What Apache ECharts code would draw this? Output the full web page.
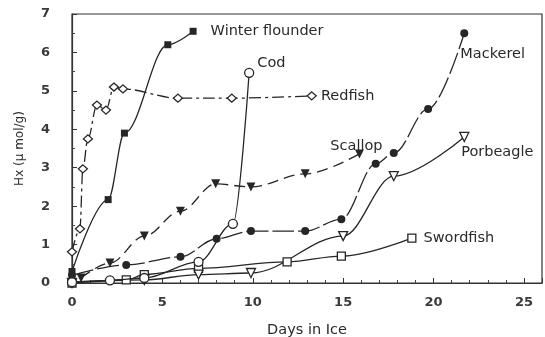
<!DOCTYPE html>
<html>
<head>
<meta charset="utf-8">
<script src="https://cdn.jsdelivr.net/npm/echarts@6/dist/echarts.min.js"></script>
<style>
  html, body { margin: 0; padding: 0; background: #fff; }
  #chart { width: 545px; height: 337px; }
</style>
</head>
<body>
<div id="chart"></div>
<script>
// Hypoxanthine (Hx) build-up in fish stored on ice, by species
const xTicks = [0, 5, 10, 15, 20, 25];
const yTicks = [0, 1, 2, 3, 4, 5, 6, 7];

const winterFlounderDays = [0, 2, 2.9, 5.3, 6.7];
const winterFlounderHx   = [0.3, 2.17, 3.9, 6.2, 6.55];

const redfishDays = [0, 0.44, 0.6, 0.88, 1.38, 1.88, 2.32, 2.82, 5.86, 8.84, 13.26];
const redfishHx   = [0.81, 1.41, 2.97, 3.75, 4.63, 4.5, 5.1, 5.05, 4.81, 4.81, 4.87];

const codDays = [0, 2.1, 4, 7, 8.9, 9.8];
const codHx   = [0.02, 0.07, 0.13, 0.55, 1.54, 5.47];

const mackerelDays = [0, 3, 6, 8, 9.9, 12.9, 14.9, 16.8, 17.8, 19.7, 21.7];
const mackerelHx   = [0.2, 0.47, 0.68, 1.15, 1.35, 1.35, 1.66, 3.1, 3.38, 4.53, 6.5];

const scallopDays = [0.5, 2.1, 4, 6, 7.95, 9.9, 12.9, 15.9];
const scallopHx   = [0.13, 0.52, 1.22, 1.87, 2.58, 2.5, 2.84, 3.36];

const porbeagleDays = [0, 4, 7, 9.9, 15, 17.8, 21.7];
const porbeagleHx   = [0, 0.08, 0.22, 0.26, 1.22, 2.78, 3.8];

const swordfishDays = [0, 3, 4, 7, 11.9, 14.9, 18.8];
const swordfishHx   = [0, 0.08, 0.22, 0.38, 0.55, 0.7, 1.17];

const INK = '#262626';
const FONT = '"DejaVu Sans", "Liberation Sans", sans-serif';

function pairs(xs, ys) {
  return xs.map((x, i) => [x, ys[i]]);
}

// One curve per species; the species name sits beside its last point
function curve(name, xs, ys, opts) {
  const last = xs.length - 1;
  return {
    name: name,
    type: 'line',
    data: pairs(xs, ys),
    smooth: 0.35,
    smoothMonotone: 'x',
    symbol: opts.symbol,
    symbolSize: opts.size,
    symbolRotate: opts.rotate || 0,
    showAllSymbol: true,
    lineStyle: { color: INK, width: 1.3, type: opts.dash || 'solid' },
    itemStyle: {
      color: opts.hollow ? '#fff' : INK,
      borderColor: INK,
      borderWidth: opts.hollow ? 1.3 : 0
    },
    label: {
      show: true,
      position: opts.labelPos || 'right',
      distance: opts.labelDist == null ? 5 : opts.labelDist,
      offset: opts.labelOffset || [0, 0],
      fontFamily: FONT,
      fontSize: 14.5,
      color: '#2a2a2a',
      formatter: p => (p.dataIndex === last ? name : '')
    },
    emphasis: { disabled: true },
    z: opts.z || 2
  };
}

const chart = echarts.init(document.getElementById('chart'), null, { renderer: 'canvas' });

chart.setOption({
  animation: false,
  backgroundColor: '#fff',
  grid: {
    left: 72, right: 3, top: 14, bottom: 54,
    containLabel: false,
    outerBoundsMode: 'none',
    show: true, borderColor: '#333', borderWidth: 1.2, backgroundColor: 'transparent'
  },
  xAxis: {
    type: 'value',
    min: 0, max: 26, interval: 5,
    name: 'Days in Ice',
    nameLocation: 'middle',
    nameGap: 40,
    nameTextStyle: { fontFamily: FONT, fontSize: 14.5, color: '#2a2a2a' },
    axisLine: { show: true, lineStyle: { color: '#333', width: 1.2 } },
    axisTick: { show: true, inside: true, length: 5, lineStyle: { color: '#333' } },
    minorTick: { show: true, splitNumber: 5, length: 3, lineStyle: { color: '#444' } },
    splitLine: { show: false },
    axisLabel: {
      margin: 13,
      fontFamily: FONT, fontSize: 13, fontWeight: 'bold', color: '#3a3a3a',
      formatter: v => (xTicks.indexOf(v) >= 0 ? String(v) : '')
    }
  },
  yAxis: {
    type: 'value',
    min: 0, max: 7, interval: 1,
    name: 'Hx (\u03bc mol/g)',
    nameLocation: 'middle',
    nameGap: 46,
    nameTextStyle: { fontFamily: FONT, fontSize: 12, color: '#2a2a2a' },
    axisLine: { show: true, lineStyle: { color: '#333', width: 1.2 } },
    axisTick: { show: true, inside: true, length: 5, lineStyle: { color: '#333' } },
    minorTick: { show: true, splitNumber: 2, length: 3, lineStyle: { color: '#444' } },
    splitLine: { show: false },
    axisLabel: {
      margin: 22,
      fontFamily: FONT, fontSize: 13, fontWeight: 'bold', color: '#3a3a3a',
      formatter: v => (yTicks.indexOf(v) >= 0 ? String(v) : '')
    }
  },
  series: [
    curve('Swordfish', swordfishDays, swordfishHx,
      { symbol: 'rect', size: 8, hollow: true, labelDist: 7 }),
    curve('Porbeagle', porbeagleDays, porbeagleHx,
      { symbol: 'triangle', rotate: 180, size: 9, hollow: true,
        labelPos: 'bottom', labelDist: 1, labelOffset: [33, 2] }),
    curve('Cod', codDays, codHx,
      { symbol: 'circle', size: 9, hollow: true,
        labelDist: 3, labelOffset: [0, -10], z: 3 }),
    curve('Mackerel', mackerelDays, mackerelHx,
      { symbol: 'circle', size: 8, dash: [22, 4],
        labelDist: 0, labelOffset: [-8, 21] }),
    curve('Scallop', scallopDays, scallopHx,
      { symbol: 'triangle', rotate: 180, size: 9, dash: [11, 6],
        labelPos: 'top', labelDist: 0, labelOffset: [-3, 4] }),
    curve('Redfish', redfishDays, redfishHx,
      { symbol: 'diamond', size: [9, 8], hollow: true, dash: [12, 4, 3, 4],
        labelDist: 4, z: 3 }),
    curve('Winter flounder', winterFlounderDays, winterFlounderHx,
      { symbol: 'rect', size: 7, labelDist: 14, z: 4 })
  ]
});
</script>
</body>
</html>
